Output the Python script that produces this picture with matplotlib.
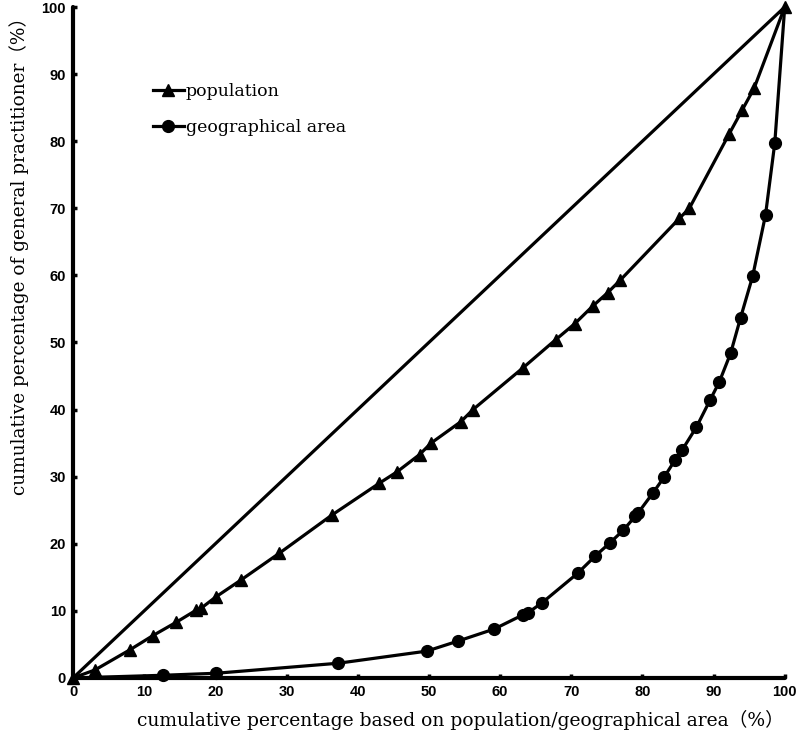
import matplotlib
matplotlib.use("Agg")
import matplotlib.pyplot as plt

# population curve (cumulative %)
pop_x = [0, 3.1, 8.0, 11.2, 14.5, 17.3, 18.0, 20.1, 23.6, 29.0, 36.4, 43.0, 45.5,
         48.7, 50.3, 54.5, 56.2, 63.2, 67.8, 70.5, 73.0, 75.1, 76.9, 85.2, 86.6,
         92.2, 94.0, 95.7, 100]
pop_y = [0, 1.2, 4.2, 6.3, 8.3, 10.1, 10.4, 12.1, 14.6, 18.6, 24.3, 29.0, 30.7,
         33.3, 35.0, 38.2, 40.0, 46.2, 50.4, 52.8, 55.4, 57.4, 59.3, 68.5, 70.0,
         81.1, 84.6, 87.9, 100]

# geographical area curve (cumulative %)
geo_x = [0, 12.6, 20.1, 37.3, 49.7, 54.1, 59.2, 63.2, 63.9, 65.9, 70.9, 73.4,
         75.4, 77.3, 79.0, 79.4, 81.5, 83.1, 84.6, 85.6, 87.6, 89.5, 90.8, 92.4,
         93.8, 95.5, 97.3, 98.6, 100]
geo_y = [0, 0.4, 0.7, 2.2, 4.0, 5.5, 7.3, 9.4, 9.7, 11.2, 15.6, 18.2, 20.1,
         22.0, 24.1, 24.6, 27.6, 30.0, 32.5, 34.0, 37.4, 41.4, 44.1, 48.4, 53.7,
         59.9, 69.0, 79.7, 100]

ticks = list(range(0, 101, 10))

SERIF = ["DejaVu Serif", "Noto Sans CJK SC"]

fig = plt.figure(figsize=(7.97, 7.46), dpi=100)
ax = fig.add_axes([0.0916, 0.0912, 0.893, 0.8994])

ax.plot([0, 100], [0, 100], color="black", lw=2.3, zorder=2)
ax.plot(pop_x, pop_y, color="black", lw=2.3, marker="^", markersize=9,
        label="population", zorder=3, clip_on=False)
ax.plot(geo_x, geo_y, color="black", lw=2.3, marker="o", markersize=8.5,
        markevery=list(range(1, len(geo_x) - 1)),
        label="geographical area", zorder=3, clip_on=False)

ax.set_xlim(0, 100)
ax.set_ylim(0, 100)
ax.set_xticks(ticks)
ax.set_yticks(ticks)

for side in ["top", "right"]:
    ax.spines[side].set_visible(False)
for side in ["left", "bottom"]:
    ax.spines[side].set_linewidth(3)
    ax.spines[side].set_capstyle("round")

ax.tick_params(direction="in", length=3, width=2.5, pad=5)
for lab in ax.get_xticklabels() + ax.get_yticklabels():
    lab.set_fontfamily("Liberation Sans")
    lab.set_fontweight("bold")
    lab.set_fontsize(10.5)

ax.set_xlabel("cumulative percentage based on population/geographical area（%）",
              family=SERIF, fontsize=13.5, labelpad=8, x=0.545)
ax.set_ylabel("cumulative percentage of general practitioner（%）",
              family=SERIF, fontsize=13.3, labelpad=9, y=0.635)

ax.legend(loc="upper left", bbox_to_anchor=(0.09, 0.91), frameon=False,
          prop={"family": "DejaVu Serif", "size": 12.5},
          handlelength=1.8, handletextpad=0.1, labelspacing=1.1)

plt.savefig("out.png", dpi=100)
